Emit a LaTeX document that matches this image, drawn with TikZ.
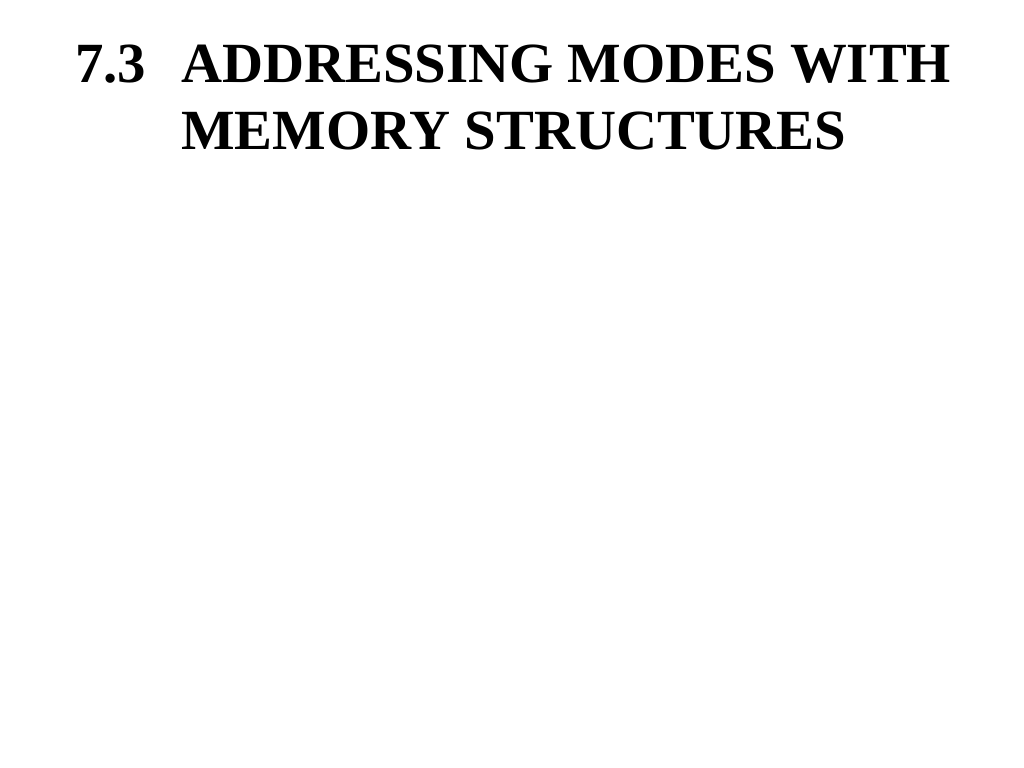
\documentclass[tikz,border=0pt]{standalone}
\usepackage{fontspec}
\setmainfont{Liberation Serif}
\begin{document}
\begin{tikzpicture}[x=1bp,y=-1bp,t/.style={anchor=base west,inner sep=0pt,font=\fontsize{57}{60}\selectfont\bfseries}]
\useasboundingbox (0,0) rectangle (1024,768);
\node[t] (num) at (75,83) {7.3};
\node[t] (l1) at (181,83) {ADDRESSING MODES WITH};
\node[t] (l2) at (181,149) {MEMORY STRUCTURES};
\end{tikzpicture}
\end{document}
